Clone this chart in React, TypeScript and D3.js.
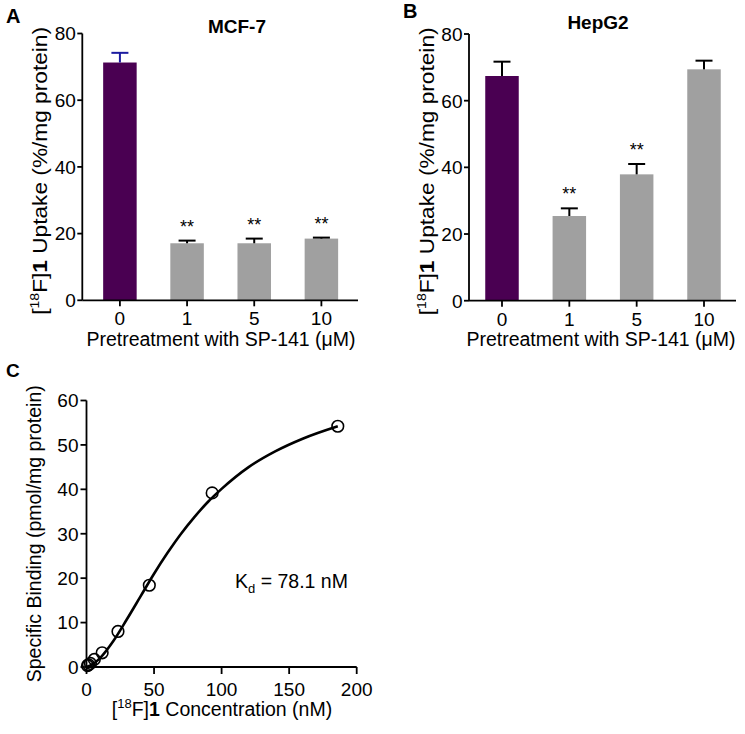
import React from "react";
import * as d3 from "d3";

// ---------- data ----------
const doses = ["0", "1", "5", "10"];
const mcf7Uptake = [71.3, 17.1, 17.1, 18.5];
const mcf7Err = [2.9, 0.8, 1.4, 0.3];
const mcf7Sig = ["", "**", "**", "**"];
const hepg2Uptake = [67.4, 25.4, 37.9, 69.4];
const hepg2Err = [4.3, 2.3, 3.1, 2.6];
const hepg2Sig = ["", "**", "**", ""];
const barYTicks = [0, 20, 40, 60, 80];

const concNM = [0.73, 1.45, 2.9, 5.8, 11.6, 23.3, 46.5, 93, 186];
const specificBinding = [0.3, 0.5, 0.8, 1.7, 3.2, 8.0, 18.4, 39.2, 54.2];
const fitConc = [0, 5, 10, 20, 30, 40, 50, 60, 70, 80, 90, 100, 120, 140, 160, 186];
const fitBinding = [0, 0.7, 2.0, 5.9, 10.8, 15.9, 21.0, 25.7, 30.0, 33.8, 37.2, 40.1, 45.0, 48.6, 51.4, 54.2];
const cXTicks = [0, 50, 100, 150, 200];
const cYTicks = [0, 10, 20, 30, 40, 50, 60];

const FONT = "'Liberation Sans', Arial, Helvetica, sans-serif";
const PURPLE = "#4a0052";
const GRAY = "#a0a0a0";
const BLUE = "#1c1ca0";

type BarPanelProps = {
  letter: string;
  letterX: number;
  letterY: number;
  title: string;
  titleX: number;
  titleY: number;
  values: number[];
  errors: number[];
  sig: string[];
  firstErrColor: string;
  axisX: number;
  rangeEnd: number;
  padding: number;
  yZero: number;
  yTop: number;
  ylabelX: number;
  xlabelX: number;
};

function BarPanel(p: BarPanelProps) {
  const x = d3.scalePoint<string>().domain(doses).range([p.axisX, p.rangeEnd]).padding(p.padding);
  const y = d3.scaleLinear().domain([0, 80]).range([p.yZero, p.yTop]);
  const bw = 33.5;
  const cap = 17;
  const axisEnd = p.rangeEnd - 1;
  return (
    <g fontFamily={FONT}>
      <text x={p.letterX} y={p.letterY} fontSize={20} fontWeight="bold">{p.letter}</text>
      <text x={p.titleX} y={p.titleY} fontSize={19} fontWeight="bold" textAnchor="middle">{p.title}</text>
      {doses.map((d, i) => {
        const cx = x(d) as number;
        const top = y(p.values[i]);
        const et = y(p.values[i] + p.errors[i]);
        const ec = i === 0 ? p.firstErrColor : "#000";
        return (
          <g key={d}>
            <rect x={cx - bw / 2} y={top} width={bw} height={y(0) - top} fill={i === 0 ? PURPLE : GRAY} />
            <line x1={cx} x2={cx} y1={top} y2={et} stroke={ec} strokeWidth={2} />
            <line x1={cx - cap / 2} x2={cx + cap / 2} y1={et} y2={et} stroke={ec} strokeWidth={2} />
            {p.sig[i] ? (
              <text x={cx} y={et - 8} fontSize={18} textAnchor="middle">{p.sig[i]}</text>
            ) : null}
          </g>
        );
      })}
      {/* y axis */}
      <line x1={p.axisX} x2={p.axisX} y1={y(80)} y2={y(0)} stroke="#000" strokeWidth={1.8} />
      {barYTicks.map((t) => (
        <g key={t}>
          <line x1={p.axisX - 5} x2={p.axisX} y1={y(t)} y2={y(t)} stroke="#000" strokeWidth={1.8} />
          <text x={p.axisX - 6.5} y={y(t)} dy="0.36em" fontSize={19} textAnchor="end">{t}</text>
        </g>
      ))}
      {/* x axis */}
      <line x1={p.axisX} x2={axisEnd} y1={y(0)} y2={y(0)} stroke="#000" strokeWidth={1.8} />
      {doses.map((d) => (
        <g key={d}>
          <line x1={x(d)} x2={x(d)} y1={y(0)} y2={y(0) + 6} stroke="#000" strokeWidth={1.8} />
          <text x={x(d)} y={y(0) + 11.5} dy="0.716em" fontSize={19} textAnchor="middle">{d}</text>
        </g>
      ))}
      <text x={p.xlabelX} y={346} fontSize={19.5} textAnchor="middle">Pretreatment with SP-141 (μM)</text>
      <text
        transform={`translate(${p.ylabelX},${(y(0) + y(80)) / 2 + 4}) rotate(-90) scale(1.08,1)`}
        fontSize={21}
        textAnchor="middle"
      >
        [<tspan dy={-8} fontSize={13}>18</tspan><tspan dy={8}>F]</tspan><tspan fontWeight="bold">1</tspan> Uptake (%/mg protein)
      </text>
    </g>
  );
}

function BindingPanel() {
  const x = d3.scaleLinear().domain([0, 200]).range([86.5, 356.7]);
  const y = d3.scaleLinear().domain([0, 60]).range([667, 400.5]);
  const line = d3
    .line<number>()
    .x((_, i) => x(fitConc[i]))
    .y((v) => y(v))
    .curve(d3.curveMonotoneX);
  return (
    <g fontFamily={FONT}>
      <text x={6} y={377} fontSize={19} fontWeight="bold">C</text>
      <path d={line(fitBinding) || ""} fill="none" stroke="#000" strokeWidth={2.6} />
      {concNM.map((c, i) => (
        <circle key={i} cx={x(c)} cy={y(specificBinding[i])} r={5.8} fill="none" stroke="#000" strokeWidth={1.6} />
      ))}
      <line x1={x(0)} x2={x(0)} y1={y(60)} y2={y(0)} stroke="#000" strokeWidth={1.8} />
      {cYTicks.map((t) => (
        <g key={t}>
          <line x1={x(0) - 6} x2={x(0)} y1={y(t)} y2={y(t)} stroke="#000" strokeWidth={1.8} />
          <text x={x(0) - 8} y={y(t)} dy="0.36em" fontSize={19} textAnchor="end">{t}</text>
        </g>
      ))}
      <line x1={x(0)} x2={x(200)} y1={y(0)} y2={y(0)} stroke="#000" strokeWidth={1.8} />
      {cXTicks.map((t) => (
        <g key={t}>
          <line x1={x(t)} x2={x(t)} y1={y(0)} y2={y(0) + 7} stroke="#000" strokeWidth={1.8} />
          <text x={x(t)} y={y(0) + 15} dy="0.716em" fontSize={19} textAnchor="middle">{t}</text>
        </g>
      ))}
      <text x={222} y={716} fontSize={19.5} textAnchor="middle">
        [<tspan dy={-8} fontSize={13}>18</tspan><tspan dy={8}>F]</tspan><tspan fontWeight="bold">1</tspan> Concentration (nM)
      </text>
      <text transform={`translate(41,${(y(0) + y(60)) / 2}) rotate(-90)`} fontSize={19.5} textAnchor="middle">
        Specific Binding (pmol/mg protein)
      </text>
      <text x={235} y={588} fontSize={19.5}>
        K<tspan dy={5} fontSize={13}>d</tspan><tspan dy={-5}> = 78.1 nM</tspan>
      </text>
    </g>
  );
}

export default function App() {
  return (
    <svg
      width={745}
      height={734}
      viewBox="0 0 745 734"
      style={{ position: "absolute", left: 0, top: 0, background: "#fff" }}
    >
      <rect width={745} height={734} fill="#fff" />
      <BarPanel
        letter="A"
        letterX={6}
        letterY={23}
        title="MCF-7"
        titleX={237}
        titleY={33}
        values={mcf7Uptake}
        errors={mcf7Err}
        sig={mcf7Sig}
        firstErrColor={BLUE}
        axisX={82.3}
        rangeEnd={359}
        padding={0.56}
        yZero={300.3}
        yTop={33.5}
        ylabelX={47}
        xlabelX={221}
      />
      <BarPanel
        letter="B"
        letterX={403}
        letterY={18}
        title="HepG2"
        titleX={598}
        titleY={29}
        values={hepg2Uptake}
        errors={hepg2Err}
        sig={hepg2Sig}
        firstErrColor="#000"
        axisX={469}
        rangeEnd={737}
        padding={0.49}
        yZero={300.7}
        yTop={34}
        ylabelX={434}
        xlabelX={601}
      />
      <BindingPanel />
    </svg>
  );
}
